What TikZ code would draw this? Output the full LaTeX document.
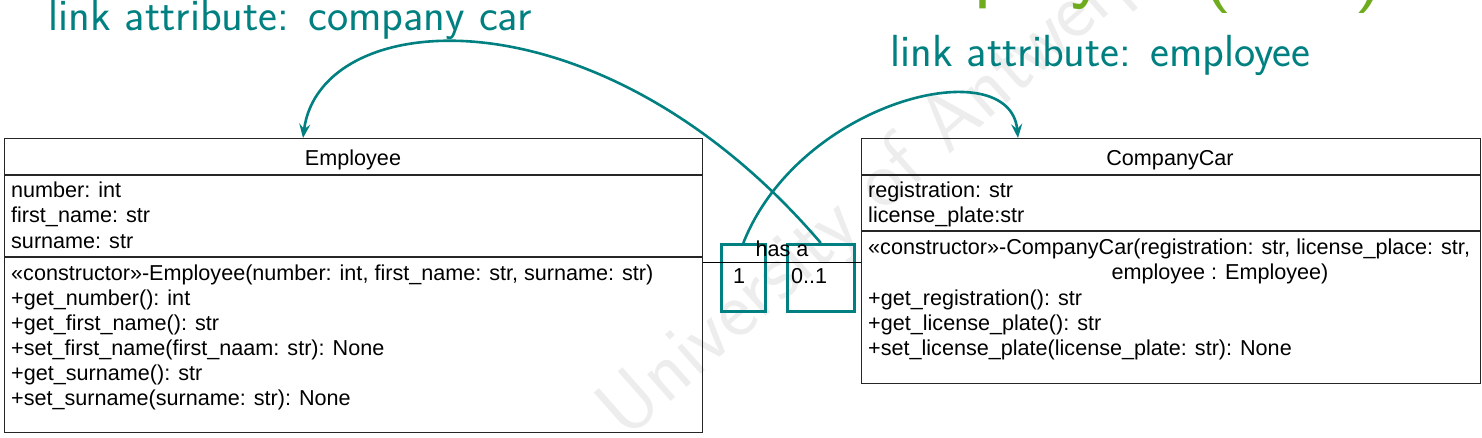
\documentclass[tikz,border=0pt]{standalone}
\usepackage{fontspec}
\newfontfamily\umlfont{Liberation Sans}
\usetikzlibrary{arrows.meta,calc}
\definecolor{linkteal}{RGB}{0,128,128}
\definecolor{titlegreen}{RGB}{110,172,30}
\begin{document}
\begin{tikzpicture}[x=1pt,y=-1pt,
  umlbox/.style={draw=black!85,line width=1.3pt,anchor=north west,inner sep=0pt},
  umlrule/.style={draw=black!85,line width=1.3pt},
  umltext/.style={anchor=base west,inner sep=0pt,font=\umlfont\fontsize{21.6}{25}\selectfont},
  multbox/.style={draw=linkteal,line width=2.6pt,anchor=north west,inner sep=0pt},
  linkarrow/.style={draw=linkteal,line width=2.6pt,-{Stealth[length=14pt,width=11pt,inset=5pt]}},
  linklabel/.style={anchor=base west,inner sep=0pt,text=linkteal,font=\sffamily\fontsize{45}{45}\selectfont}]
\useasboundingbox (0,0) rectangle (1482,437);
\clip (0,0) rectangle (1482,437);
% watermark
\node[rotate=41.5,text=black!7,font=\sffamily\fontsize{82}{82}\selectfont,inner sep=0pt] (wm) at (874,194) {University of Antwerp};
% clipped title
\node[anchor=base west,inner sep=0pt,text=titlegreen,font=\sffamily\fontsize{84}{84}\selectfont] (title) at (864,-7.5) {Employee (1..1)};
% Employee class
\node[umlbox,minimum width=698pt,minimum height=294pt] (emp) at (4,138) {};
\draw[umlrule] ($(emp.north west)+(0,37)$) -- ($(emp.north east)+(0,37)$);
\draw[umlrule] ($(emp.north west)+(0,119)$) -- ($(emp.north east)+(0,119)$);
\node[umltext,anchor=base] (empname) at (353,165) {Employee};
\node[umltext] (ea1) at (11,197) {number: int};
\node[umltext] (ea2) at (11,222) {first\_name: str};
\node[umltext] (ea3) at (11,248) {surname: str};
\node[umltext] (em1) at (11,280) {«constructor»-Employee(number: int, first\_name: str, surname: str)};
\node[umltext] (em2) at (11,305) {+get\_number(): int};
\node[umltext] (em3) at (11,330) {+get\_first\_name(): str};
\node[umltext] (em4) at (11,355) {+set\_first\_name(first\_naam: str): None};
\node[umltext] (em5) at (11,380) {+get\_surname(): str};
\node[umltext] (em6) at (11,405) {+set\_surname(surname: str): None};
% CompanyCar class
\node[umlbox,minimum width=619pt,minimum height=245pt] (car) at (861,138) {};
\draw[umlrule] ($(car.north west)+(0,37)$) -- ($(car.north east)+(0,37)$);
\draw[umlrule] ($(car.north west)+(0,93)$) -- ($(car.north east)+(0,93)$);
\node[umltext,anchor=base] (carname) at (1170,165) {CompanyCar};
\node[umltext] (ca1) at (868,197) {registration: str};
\node[umltext] (ca2) at (868,222) {license\_plate:str};
\node[umltext] (cm1) at (868,254) {«constructor»-CompanyCar(registration: str, license\_place: str,};
\node[umltext,anchor=base] (cm1b) at (1220,279) {employee : Employee)};
\node[umltext] (cm2) at (868,305) {+get\_registration(): str};
\node[umltext] (cm3) at (868,330) {+get\_license\_plate(): str};
\node[umltext] (cm4) at (868,355) {+set\_license\_plate(license\_plate: str): None};
% multiplicity boxes (under the association texts)
\node[multbox,minimum width=44pt,minimum height=67pt] (m1box) at (720,243) {};
\node[multbox,minimum width=67pt,minimum height=67pt] (m2box) at (786,243) {};
% association
\draw[black,line width=1pt] (emp.east |- 0,262) -- (car.west |- 0,262);
\node[umltext,anchor=base] (hasa) at (782,256) {has a};
\node[umltext] (mult1) at (733,283) {1};
\node[umltext] (mult2) at (791,283) {0..1};
% link attributes
\coordinate (empin) at (303,138);
\coordinate (carin) at (1018,138);
\draw[linkarrow] (m2box.north) .. controls (600,-15) and (320,5) .. (empin);
\draw[linkarrow] (m1box.north) .. controls (800,100) and (1010,50) .. (carin);
\node[linklabel] (la1) at (48,30) {link attribute: company car};
\node[linklabel] (la2) at (890,66) {link attribute: employee};
\end{tikzpicture}
\end{document}
